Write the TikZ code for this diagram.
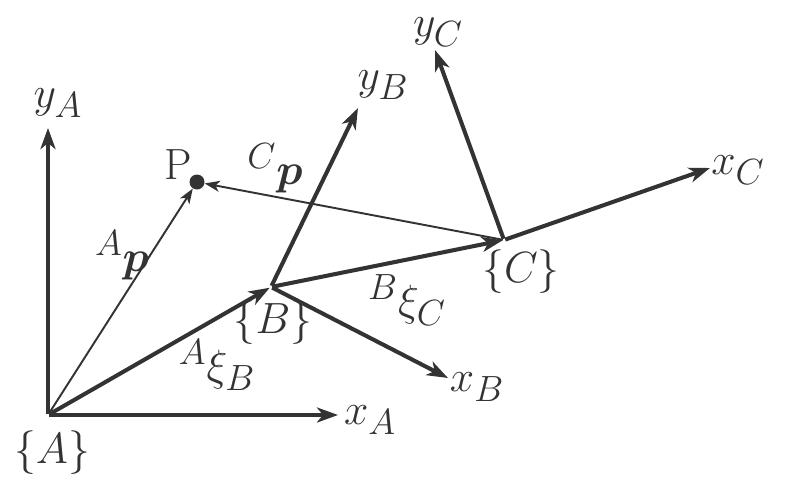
\documentclass[tikz,border=0pt]{standalone}
\usepackage{amsmath}
\usepackage{amssymb}
\usetikzlibrary{positioning}
\usetikzlibrary{calc}
\usetikzlibrary{arrows.meta}
\definecolor{ink}{HTML}{333333}
\tikzset{
  axis/.style={draw=ink,line width=2.3pt,-{Stealth[length=0.42cm,width=0.3cm,inset=0.12cm]}},
  vec/.style={draw=ink,line width=1.1pt,-{Stealth[length=0.3cm,width=0.22cm,inset=0.08cm]}},
  lbl/.style={text=ink,font=\Huge,inner sep=0pt}
}

\begin{document}
\begin{tikzpicture}
\useasboundingbox (0,0) rectangle (16.08,9.8);
% frame origins
\node[inner sep=0pt](A) at (0.96,1.50){};
\node[inner sep=0pt](B) at (5.42,4.06){};
\node[inner sep=0pt](C) at (10.08,5.00){};
\node[circle,fill=ink,inner sep=0pt,minimum size=0.3cm](P) at (3.94,6.16){};
% axis ends
\coordinate(xA) at (6.76,1.50);
\coordinate(yA) at (0.96,7.24);
\coordinate(xB) at (8.96,2.24);
\coordinate(yB) at (7.16,7.64);
\coordinate(xC) at (14.20,6.44);
\coordinate(yC) at (8.70,8.80);
% labels
\node[lbl](lyA) at (1.16,7.74){$y_A$};
\node[lbl](lxA) at (7.40,1.40){$x_A$};
\node[lbl](lA) at (1.04,0.74){$\{A\}$};
\node[lbl](lyB) at (7.66,8.10){$y_B$};
\node[lbl](lxB) at (9.54,2.06){$x_B$};
\node[lbl](lB) at (5.46,3.34){$\{B\}$};
\node[lbl](lyC) at (8.76,9.16){$y_C$};
\node[lbl](lxC) at (14.76,6.40){$x_C$};
\node[lbl](lC) at (10.42,4.36){$\{C\}$};
\node[lbl](lP) at (3.56,6.50){P};
\node[lbl](lAp) at (2.44,4.70){${}^{A}\boldsymbol{p}$};
\node[lbl](lCp) at (5.50,6.44){${}^{C}\boldsymbol{p}$};
\node[lbl](lAxi) at (4.34,2.50){${}^{A}\xi_B$};
\node[lbl](lBxi) at (8.14,3.80){${}^{B}\xi_C$};

\path
(A) edge[axis] (xA)
(A) edge[axis] (yA)
(B) edge[axis] (xB)
(B) edge[axis] (yB)
(C) edge[axis] (xC)
(C) edge[axis] (yC)
(A) edge[axis] (B)
(B) edge[axis] (C)
(A) edge[vec] (P)
(C) edge[vec] (P);
\end{tikzpicture}
\end{document}
